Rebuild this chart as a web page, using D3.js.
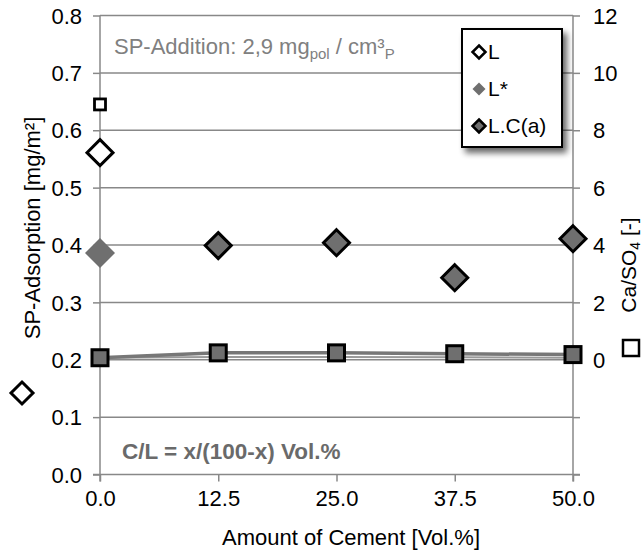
<!DOCTYPE html>
<html>
<head>
<meta charset="utf-8">
<script src="https://cdn.jsdelivr.net/npm/d3@7"></script>
<style>
  body { margin: 0; background: #fff; }
  text { font-family: "Liberation Sans", Arial, sans-serif; }
</style>
</head>
<body>
<div id="chart"></div>
<script>
// amount of cement [Vol.%]
var cement = [0, 12.5, 25, 37.5, 50];
var xTicks = [0, 12.5, 25, 37.5, 50];
var yTicks = [0, 0.1, 0.2, 0.3, 0.4, 0.5, 0.6, 0.7, 0.8];
var y2Labels = [0, 2, 4, 6, 8, 10, 12];

// SP adsorption [mg/m²]
var adsL = [{x: 0, y: 0.561}];
var adsLstar = [{x: 0, y: 0.386}];
var adsLCa = [
  {x: 12.5, y: 0.399},
  {x: 25, y: 0.404},
  {x: 37.5, y: 0.343},
  {x: 50, y: 0.411}
];

// Ca/SO4 [-]
var caL = [{x: 0, y: 8.9}];
var caLCa = [0.07, 0.24, 0.24, 0.21, 0.18];
var caLCa2 = [0.07, 0.1, 0.1, 0.09, 0.07];

var legendItems = ["L", "L*", "L.C(a)"];

var W = 643, H = 552;
var svg = d3.select("#chart").append("svg")
    .attr("width", W).attr("height", H);

var defs = svg.append("defs");
var f = defs.append("filter").attr("id", "shadow")
    .attr("x", "-20%").attr("y", "-20%").attr("width", "150%").attr("height", "150%");
f.append("feGaussianBlur").attr("in", "SourceAlpha").attr("stdDeviation", 3);
f.append("feOffset").attr("dx", 4).attr("dy", 5).attr("result", "b");
f.append("feComponentTransfer").append("feFuncA").attr("type", "linear").attr("slope", 0.6);
var fm = f.append("feMerge");
fm.append("feMergeNode");
fm.append("feMergeNode").attr("in", "SourceGraphic");

var x = d3.scaleLinear().domain([0, 50]).range([100, 573]);
var y = d3.scaleLinear().domain([0, 0.8]).range([474.5, 15.5]);
// right axis: 0 lines up with 0.2, 12 with 0.8
var y2 = d3.scaleLinear().domain([-4, 12]).range([474.5, 15.5]);

var grey = "#888";
var fillGrey = "#6f6f6f";
var fs = "22px";

// gridlines
svg.append("g").selectAll("line").data(yTicks.slice(1)).enter().append("line")
    .attr("x1", x(0)).attr("x2", x(50))
    .attr("y1", function (d) { return y(d); })
    .attr("y2", function (d) { return y(d); })
    .attr("stroke", grey).attr("stroke-width", 1.5);

// left axis
var yAxis = d3.axisLeft(y).tickValues(yTicks).tickFormat(d3.format(".1f"))
    .tickSize(7).tickPadding(11);
var gy = svg.append("g").attr("transform", "translate(" + x(0) + ",0)").call(yAxis);

// right axis
var y2Axis = d3.axisRight(y2).tickValues([-4, -2].concat(y2Labels))
    .tickFormat(function (d) { return d < 0 ? "" : d; })
    .tickSize(7).tickPadding(13);
var gy2 = svg.append("g").attr("transform", "translate(" + x(50) + ",0)").call(y2Axis);

// bottom axis
var xAxis = d3.axisBottom(x).tickValues(xTicks).tickFormat(d3.format(".1f"))
    .tickSize(7).tickPadding(7);
var gx = svg.append("g").attr("transform", "translate(0," + y(0) + ")").call(xAxis);

[gy, gy2, gx].forEach(function (g) {
  g.select(".domain").remove();
  g.selectAll("line").attr("stroke", grey).attr("stroke-width", 1.5);
  g.selectAll("text").attr("fill", "#000").style("font-size", fs)
    .style("font-family", "Liberation Sans, Arial, sans-serif");
});
gy.selectAll("text").attr("dy", "0.35em");
gy2.selectAll("text").attr("dy", "0.35em");
gx.selectAll("text").attr("dy", "0.8em");

// axis lines
svg.append("line").attr("x1", x(0)).attr("x2", x(0)).attr("y1", y(0.8)).attr("y2", y(0) + 7)
    .attr("stroke", grey).attr("stroke-width", 1.5);
svg.append("line").attr("x1", x(50)).attr("x2", x(50)).attr("y1", y(0.8)).attr("y2", y(0) + 7)
    .attr("stroke", grey).attr("stroke-width", 1.5);
svg.append("line").attr("x1", x(0) - 7).attr("x2", x(50) + 7).attr("y1", y(0)).attr("y2", y(0))
    .attr("stroke", grey).attr("stroke-width", 1.5);

// Ca/SO4 lines
var line2 = d3.line().x(function (d, i) { return x(cement[i]); }).y(function (d) { return y2(d); });
svg.append("path").datum(caLCa2).attr("d", line2)
    .attr("fill", "none").attr("stroke", "#999").attr("stroke-width", 2);
svg.append("path").datum(caLCa).attr("d", line2)
    .attr("fill", "none").attr("stroke", "#777").attr("stroke-width", 3.5);

// squares
svg.append("g").selectAll("rect").data(caLCa).enter().append("rect")
    .attr("x", function (d, i) { return x(cement[i]) - 8; })
    .attr("y", function (d) { return y2(d) - 8; })
    .attr("width", 16).attr("height", 16)
    .attr("fill", fillGrey).attr("stroke", "#000").attr("stroke-width", 3);
svg.append("g").selectAll("rect").data(caL).enter().append("rect")
    .attr("x", function (d) { return x(d.x) - 5.5; })
    .attr("y", function (d) { return y2(d.y) - 5.5; })
    .attr("width", 11).attr("height", 11)
    .attr("fill", "#fff").attr("stroke", "#000").attr("stroke-width", 2.8);

// diamonds
function diamond(r) {
  return "M0," + (-r) + "L" + r + ",0L0," + r + "L" + (-r) + ",0Z";
}
svg.append("g").selectAll("path").data(adsLstar).enter().append("path")
    .attr("d", diamond(15))
    .attr("transform", function (d) { return "translate(" + x(d.x) + "," + y(d.y) + ")"; })
    .attr("fill", fillGrey);
svg.append("g").selectAll("path").data(adsLCa).enter().append("path")
    .attr("d", diamond(13))
    .attr("transform", function (d) { return "translate(" + x(d.x) + "," + y(d.y) + ")"; })
    .attr("fill", fillGrey).attr("stroke", "#000").attr("stroke-width", 3);
svg.append("g").selectAll("path").data(adsL).enter().append("path")
    .attr("d", diamond(13))
    .attr("transform", function (d) { return "translate(" + x(d.x) + "," + y(d.y) + ")"; })
    .attr("fill", "#fff").attr("stroke", "#000").attr("stroke-width", 3);

// annotations
var ann = svg.append("text").attr("x", 114).attr("y", 54)
    .attr("fill", "#808080").style("font-size", "22px");
ann.append("tspan").text("SP-Addition: 2,9 mg");
ann.append("tspan").attr("dy", 5).style("font-size", "15px").text("pol");
ann.append("tspan").attr("dy", -5).text(" / cm³");
ann.append("tspan").attr("dy", 5).style("font-size", "15px").text("P");

svg.append("text").attr("x", 122).attr("y", 459)
    .attr("fill", "#6a6a6a").style("font-size", "22.5px").style("font-weight", "bold")
    .text("C/L = x/(100-x) Vol.%");

// axis titles
svg.append("text").attr("x", 351).attr("y", 545)
    .attr("text-anchor", "middle").style("font-size", fs)
    .text("Amount of Cement [Vol.%]");

svg.append("text")
    .attr("transform", "translate(40,228) rotate(-90)")
    .attr("text-anchor", "middle").style("font-size", fs)
    .text("SP-Adsorption [mg/m²]");
svg.append("path").attr("d", diamond(11))
    .attr("transform", "translate(22,393)")
    .attr("fill", "#fff").attr("stroke", "#000").attr("stroke-width", 3);

var t2 = svg.append("text")
    .attr("transform", "translate(636,265) rotate(-90)")
    .attr("text-anchor", "middle").style("font-size", "21px");
t2.append("tspan").text("Ca/SO");
t2.append("tspan").attr("dy", 4).style("font-size", "14px").text("4");
t2.append("tspan").attr("dy", -4).text(" [-]");
svg.append("rect").attr("x", 623).attr("y", 340).attr("width", 16).attr("height", 16)
    .attr("fill", "#fff").attr("stroke", "#000").attr("stroke-width", 2.5);

// legend
var lg = svg.append("g").attr("transform", "translate(462,29)");
lg.append("rect").attr("width", 100).attr("height", 118)
    .attr("fill", "#fff").attr("stroke", "#000").attr("stroke-width", 2)
    .attr("filter", "url(#shadow)");
var li = lg.selectAll("g.item").data(legendItems).enter().append("g")
    .attr("transform", function (d, i) { return "translate(0," + (23 + i * 37) + ")"; });
li.append("path").attr("d", diamond(6.5))
    .attr("transform", "translate(17,0)")
    .attr("fill", function (d, i) { return i === 0 ? "#fff" : fillGrey; })
    .attr("stroke", function (d, i) { return i === 1 ? "none" : "#000"; })
    .attr("stroke-width", 2.5);
li.append("text").attr("x", 26).attr("dy", "0.35em").style("font-size", "21px")
    .text(function (d) { return d; });
</script>
</body>
</html>
